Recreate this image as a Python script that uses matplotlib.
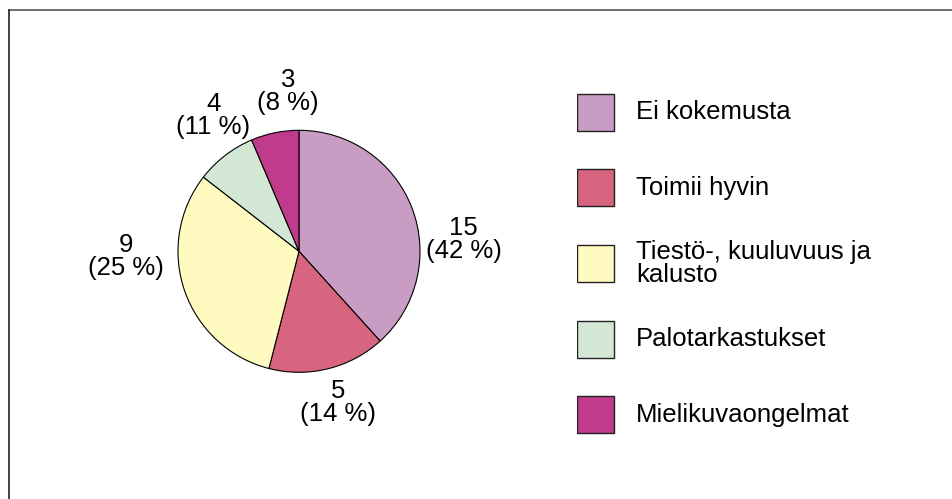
import matplotlib.pyplot as plt
from matplotlib.patches import Rectangle
from matplotlib.lines import Line2D

plt.rcParams['font.family'] = ['Liberation Sans', 'DejaVu Sans']

# data
categories = ['Ei kokemusta', 'Toimii hyvin', 'Tiestö-, kuuluvuus ja\nkalusto',
              'Palotarkastukset', 'Mielikuvaongelmat']
values = [15, 5, 9, 4, 3]
# slice sizes as drawn in the source picture (share of circle, %), they do not
# follow the counts exactly
slice_shares = [38.3, 15.7, 31.5, 8.1, 6.4]
colors = ['#C99DC3', '#D8657F', '#FFFAC0', '#D3E8D4', '#C03B8C']

# label positions in pie radius units
label_xy = [(1.36, 0.10), (0.32, -1.25), (-1.43, -0.04), (-0.71, 1.12), (-0.09, 1.32)]

total = sum(values)
labels = ['%d\n(%d %%)' % (v, round(v * 100 / total)) for v in values]

W, H = 952, 499
fig = plt.figure(figsize=(W / 100, H / 100), dpi=100)

# pie axes (center ~ (299, 251) px, radius 121 px)
cx, cy, r = 299, 251.3, 121
ax = fig.add_axes([(cx - r) / W, (H - cy - r) / H, 2 * r / W, 2 * r / H])
wedges, texts = ax.pie(slice_shares, colors=colors, startangle=90, counterclock=False,
                       labels=labels,
                       wedgeprops=dict(edgecolor='black', linewidth=0.8))
for t, (x, y) in zip(texts, label_xy):
    t.set_position((x, y))
    t.set_ha('center')
    t.set_va('center')
    t.set_fontsize(18.5)
    t.set_linespacing(0.95)
    t.set_clip_on(False)
ax.set_xlim(-1, 1)
ax.set_ylim(-1, 1)
ax.set_aspect('equal')

# legend drawn on its own axes, one row per category
lx0, lx1 = 577, 920
row_px = 75.6
ly_top = 112 - row_px / 2
ly_bot = 415 + row_px / 2
lax = fig.add_axes([lx0 / W, (H - ly_bot) / H, (lx1 - lx0) / W, (ly_bot - ly_top) / H])
lax.set_xlim(0, lx1 - lx0)
lax.set_ylim(len(categories) - 0.5, -0.5)
lax.axis('off')
box_w = 37
box_h = 37 / row_px
for i, (c, name) in enumerate(zip(colors, categories)):
    lax.add_patch(Rectangle((0, i - box_h / 2), box_w, box_h, facecolor=c,
                            edgecolor='#222222', linewidth=1.0))
    lax.text(59, i, name, ha='left', va='center', fontsize=18.5, linespacing=0.95)

# outer frame (top and left edges visible)
fig.add_artist(Line2D([8.5 / W, 1], [1 - 9.8 / H, 1 - 9.8 / H],
                      transform=fig.transFigure, color='#555555', linewidth=1.2))
fig.add_artist(Line2D([8.5 / W, 8.5 / W], [0, 1 - 9.8 / H],
                      transform=fig.transFigure, color='#222222', linewidth=1.2))

fig.savefig('out.png', dpi=100)
